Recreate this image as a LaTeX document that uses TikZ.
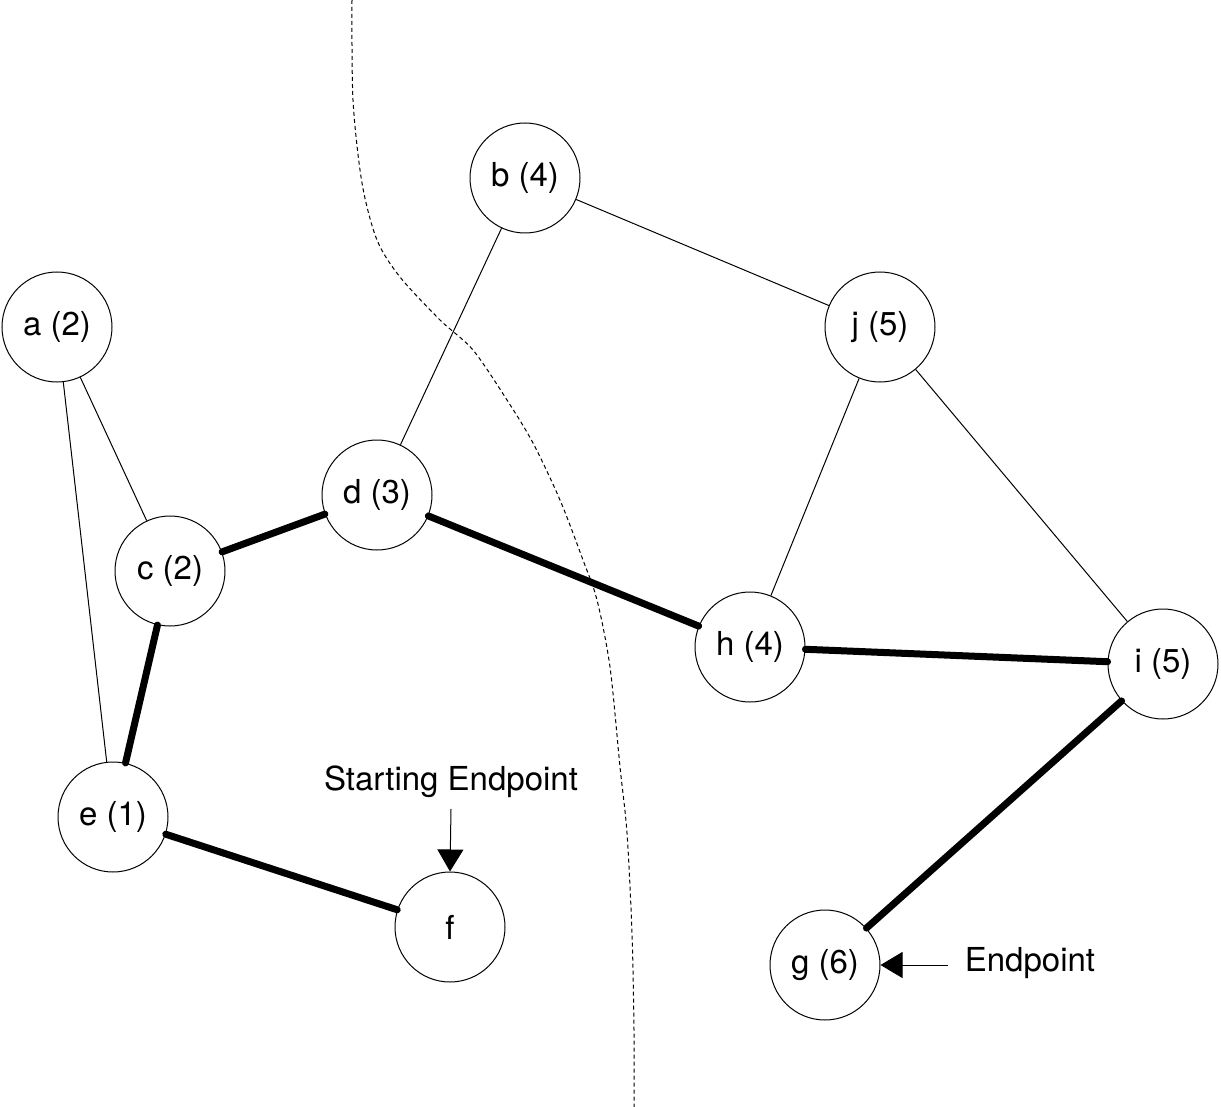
\documentclass[tikz,border=0pt]{standalone}
\usepackage{fontspec}
\setmainfont{TeX Gyre Heros}
\usetikzlibrary{arrows.meta}
\tikzset{
  vert/.style={circle,draw,line width=0.5pt,minimum size=55pt,inner sep=0pt},
  thin edge/.style={line width=0.5pt},
  path edge/.style={line width=3.5pt,line cap=round},
  pointer/.style={line width=0.5pt,-{Triangle[width=13pt,length=11pt]}}
}
\begin{document}
\begin{tikzpicture}[x=0.5pt,y=-0.5pt,font=\fontsize{16.5}{20}\selectfont]
      \useasboundingbox (0,0) rectangle (1221,1107);
      % the cut
      \draw[line width=0.5pt,dash pattern=on 2pt off 1.5pt] plot[smooth] coordinates
        {(352,0) (353,100) (362,183) (377,240) (400,277) (440,320) (473,350)
         (507,400) (533,443) (560,500) (583,560) (597,600) (610,667)
         (620,767) (627,833) (632,933) (634,1030) (634,1107)};
      \node[vert] (a) at (57,327) {a (2)};
      \node[vert] (b) at (525,178) {b (4)};
      \node[vert] (j) at (880,327) {j (5)};
      \node[vert] (d) at (377,495) {d (3)};
      \node[vert] (c) at (170,571) {c (2)};
      \node[vert] (h) at (750,647) {h (4)};
      \node[vert] (i) at (1163,664) {i (5)};
      \node[vert] (e) at (113,817) {e (1)};
      \node[vert] (f) at (450,927) {f};
      \node[vert] (g) at (825,965) {g (6)};
      \foreach \u/\v in {a/c,a/e,b/d,b/j,j/h,j/i}
      {\draw[thin edge] (\u) -- (\v);}
      \foreach \u/\v in {c/d,d/h,h/i,i/g,c/e,e/f}
      {\draw[path edge] (\u) -- (\v);}
      % endpoints
      \node (start) at (451,782) {Starting Endpoint};
      \node (stop) at (1030,963) {Endpoint};
      \draw[pointer] (start.south) ++(0,4) coordinate (s0) (s0) -- (f.north);
      \draw[pointer] (stop.west |- g.east) ++(-10,0) coordinate (t0) (t0) -- (g.east);
    \end{tikzpicture}
\end{document}
